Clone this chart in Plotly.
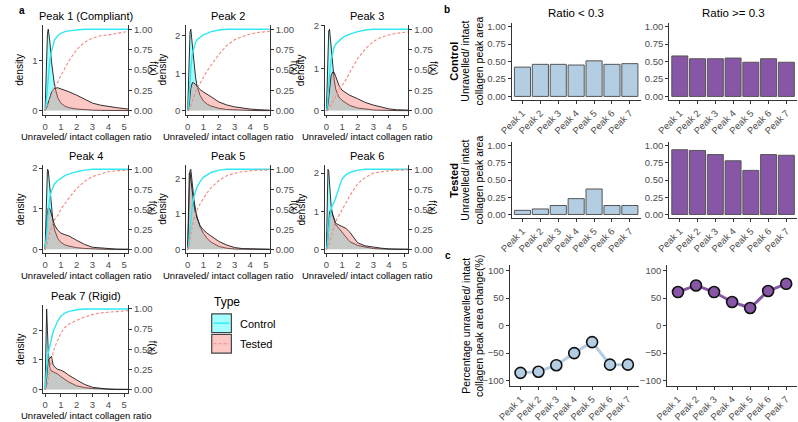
import plotly.graph_objects as go

# ---------------- data ----------------
ratio_x = [0, 0.05, 0.1, 0.15, 0.2, 0.3, 0.4, 0.5, 0.6, 0.8, 1.0, 1.25, 1.5, 2.0, 2.5, 3.0, 3.5, 4.0, 4.5, 5.0, 5.3]

peak_titles = ["Peak 1 (Compliant)", "Peak 2", "Peak 3", "Peak 4", "Peak 5", "Peak 6", "Peak 7 (Rigid)"]

p1_control_density = [0, 0.55, 1.15, 1.55, 1.64, 1.4, 1.0, 0.72, 0.5, 0.26, 0.15, 0.09, 0.06, 0.03, 0.015, 0.01, 0.005, 0, 0, 0, 0]
p1_tested_density = [0, 0.02, 0.06, 0.11, 0.17, 0.28, 0.36, 0.42, 0.45, 0.46, 0.44, 0.41, 0.38, 0.31, 0.23, 0.15, 0.11, 0.08, 0.06, 0.04, 0.03]
p1_control_cdf = [0, 0.05, 0.16, 0.3, 0.45, 0.62, 0.73, 0.81, 0.87, 0.92, 0.95, 0.97, 0.98, 0.99, 1.0, 1.0, 1.0, 1.0, 1.0, 1.0, 1.0]
p1_tested_cdf = [0, 0.01, 0.03, 0.06, 0.09, 0.15, 0.2, 0.25, 0.29, 0.35, 0.43, 0.53, 0.61, 0.75, 0.84, 0.89, 0.92, 0.93, 0.95, 0.97, 0.975]

p2_control_density = [0, 0.8, 1.7, 2.1, 2.18, 1.75, 1.25, 0.9, 0.65, 0.4, 0.26, 0.17, 0.12, 0.06, 0.03, 0.015, 0.01, 0.005, 0, 0, 0]
p2_tested_density = [0, 0.05, 0.18, 0.4, 0.6, 0.75, 0.74, 0.7, 0.65, 0.56, 0.5, 0.44, 0.37, 0.23, 0.15, 0.1, 0.06, 0.04, 0.025, 0.015, 0.01]
p2_control_cdf = [0, 0.06, 0.18, 0.36, 0.52, 0.7, 0.79, 0.84, 0.87, 0.9, 0.93, 0.95, 0.97, 0.99, 1.0, 1.0, 1.0, 1.0, 1.0, 1.0, 1.0]
p2_tested_cdf = [0, 0.005, 0.02, 0.04, 0.07, 0.13, 0.18, 0.23, 0.27, 0.34, 0.41, 0.49, 0.56, 0.69, 0.8, 0.87, 0.91, 0.94, 0.96, 0.97, 0.975]

p3_control_density = [0, 0.7, 1.5, 1.88, 1.92, 1.5, 1.05, 0.72, 0.5, 0.32, 0.24, 0.17, 0.12, 0.06, 0.03, 0.015, 0.01, 0, 0, 0, 0]
p3_tested_density = [0, 0.04, 0.15, 0.35, 0.55, 0.82, 0.91, 0.9, 0.8, 0.6, 0.48, 0.41, 0.36, 0.28, 0.19, 0.13, 0.08, 0.04, 0.02, 0.01, 0.01]
p3_control_cdf = [0, 0.05, 0.17, 0.32, 0.45, 0.62, 0.72, 0.78, 0.82, 0.86, 0.89, 0.92, 0.94, 0.97, 0.99, 1.0, 1.0, 1.0, 1.0, 1.0, 1.0]
p3_tested_cdf = [0, 0.0, 0.01, 0.02, 0.04, 0.07, 0.11, 0.15, 0.19, 0.25, 0.31, 0.38, 0.47, 0.64, 0.76, 0.85, 0.9, 0.93, 0.95, 0.96, 0.97]

p4_control_density = [0, 0.9, 1.7, 1.97, 1.95, 1.45, 1.0, 0.68, 0.48, 0.27, 0.17, 0.11, 0.08, 0.04, 0.02, 0.01, 0, 0, 0, 0, 0]
p4_tested_density = [0, 0.2, 0.55, 0.88, 1.02, 1.0, 0.86, 0.72, 0.6, 0.47, 0.4, 0.36, 0.33, 0.22, 0.12, 0.05, 0.03, 0.01, 0.005, 0, 0]
p4_control_cdf = [0, 0.07, 0.2, 0.36, 0.5, 0.65, 0.73, 0.78, 0.82, 0.86, 0.89, 0.92, 0.94, 0.97, 0.99, 1.0, 1.0, 1.0, 1.0, 1.0, 1.0]
p4_tested_cdf = [0, 0.02, 0.05, 0.1, 0.15, 0.22, 0.28, 0.33, 0.37, 0.42, 0.5, 0.57, 0.64, 0.76, 0.85, 0.91, 0.94, 0.97, 0.98, 0.99, 0.99]

p5_control_density = [0, 0.9, 1.9, 2.22, 2.25, 1.75, 1.4, 1.12, 0.92, 0.62, 0.45, 0.3, 0.2, 0.08, 0.03, 0.01, 0, 0, 0, 0, 0]
p5_tested_density = [0, 1.3, 2.15, 2.15, 1.95, 1.55, 1.25, 1.02, 0.87, 0.66, 0.55, 0.45, 0.37, 0.22, 0.12, 0.05, 0.02, 0.01, 0, 0, 0]
p5_control_cdf = [0, 0.04, 0.14, 0.26, 0.37, 0.55, 0.66, 0.73, 0.78, 0.85, 0.9, 0.93, 0.96, 0.99, 1.0, 1.0, 1.0, 1.0, 1.0, 1.0, 1.0]
p5_tested_cdf = [0, 0.02, 0.07, 0.14, 0.2, 0.3, 0.38, 0.44, 0.49, 0.57, 0.64, 0.71, 0.77, 0.86, 0.92, 0.95, 0.97, 0.98, 0.99, 0.99, 1.0]

p6_control_density = [0, 1.2, 2.1, 2.05, 1.65, 1.15, 0.9, 0.75, 0.64, 0.55, 0.45, 0.32, 0.2, 0.1, 0.05, 0.02, 0.01, 0, 0, 0, 0]
p6_tested_density = [0, 0.1, 0.35, 0.75, 0.98, 1.04, 0.92, 0.75, 0.68, 0.64, 0.6, 0.55, 0.45, 0.17, 0.09, 0.05, 0.03, 0.01, 0.005, 0, 0]
p6_control_cdf = [0, 0.05, 0.16, 0.28, 0.37, 0.5, 0.56, 0.59, 0.65, 0.76, 0.88, 0.93, 0.96, 0.99, 1.0, 1.0, 1.0, 1.0, 1.0, 1.0, 1.0]
p6_tested_cdf = [0, 0.005, 0.02, 0.05, 0.09, 0.17, 0.24, 0.3, 0.35, 0.42, 0.49, 0.58, 0.67, 0.82, 0.9, 0.95, 0.97, 0.98, 0.99, 0.99, 1.0]

p7_control_density = [0, 1.8, 2.72, 2.0, 1.3, 0.75, 0.62, 0.6, 0.58, 0.52, 0.43, 0.33, 0.25, 0.12, 0.06, 0.03, 0.015, 0.005, 0, 0, 0]
p7_tested_density = [0, 0.1, 0.4, 0.8, 1.0, 1.05, 1.12, 0.85, 0.76, 0.68, 0.65, 0.58, 0.48, 0.32, 0.17, 0.07, 0.03, 0.01, 0.005, 0, 0]
p7_control_cdf = [0, 0.15, 0.3, 0.38, 0.45, 0.55, 0.64, 0.71, 0.76, 0.85, 0.91, 0.95, 0.97, 0.99, 1.0, 1.0, 1.0, 1.0, 1.0, 1.0, 1.0]
p7_tested_cdf = [0, 0.01, 0.03, 0.08, 0.14, 0.25, 0.36, 0.45, 0.52, 0.62, 0.7, 0.77, 0.81, 0.86, 0.9, 0.93, 0.95, 0.96, 0.97, 0.975, 0.98]

peak_labels = ["Peak 1", "Peak 2", "Peak 3", "Peak 4", "Peak 5", "Peak 6", "Peak 7"]
control_ratio_low = [0.42, 0.46, 0.46, 0.45, 0.51, 0.46, 0.47]
control_ratio_high = [0.58, 0.54, 0.54, 0.55, 0.49, 0.54, 0.49]
tested_ratio_low = [0.06, 0.08, 0.13, 0.23, 0.37, 0.13, 0.13]
tested_ratio_high = [0.94, 0.93, 0.87, 0.78, 0.64, 0.87, 0.86]
change_low = [-86, -84, -72, -50, -30, -71, -71]
change_high = [61, 73, 61, 43, 32, 63, 76]

# ---------------- helpers ----------------
W, H = 798, 422
FONT = "Arial, Liberation Sans, sans-serif"


def fx(p):
    return p / W


def fy(p):
    return 1 - p / H


def nm(prefix, n):
    return prefix + ("" if n == 1 else str(n))


AX = dict(showline=True, linecolor="#333333", linewidth=1, ticks="outside", ticklen=3,
          tickcolor="#333333", tickfont=dict(size=9.5, color="#4d4d4d", family=FONT),
          showgrid=False, zeroline=False, fixedrange=True)

fig = go.Figure()
layout = {}
annotations = []


def annotate(px, py, text, size=10, angle=0, bold=False, xanchor="center", color="black"):
    annotations.append(dict(x=fx(px), y=fy(py), xref="paper", yref="paper", text=("<b>%s</b>" % text) if bold else text,
                            showarrow=False, textangle=angle, xanchor=xanchor, yanchor="middle",
                            font=dict(size=size, color=color, family=FONT)))


# ---------------- panel a ----------------
peaks = [
    (p1_control_density, p1_tested_density, p1_control_cdf, p1_tested_cdf),
    (p2_control_density, p2_tested_density, p2_control_cdf, p2_tested_cdf),
    (p3_control_density, p3_tested_density, p3_control_cdf, p3_tested_cdf),
    (p4_control_density, p4_tested_density, p4_control_cdf, p4_tested_cdf),
    (p5_control_density, p5_tested_density, p5_control_cdf, p5_tested_cdf),
    (p6_control_density, p6_tested_density, p6_control_cdf, p6_tested_cdf),
    (p7_control_density, p7_tested_density, p7_control_cdf, p7_tested_cdf),
]
cols = [(31, 117), (176, 261), (317, 402)]
rows = [(20.5, 111.5), (163, 252.5), (305, 395)]

CYAN_LINE = "#2EE8F2"
PINK_LINE = "#F4877F"
CYAN_FILL = "rgba(0,255,255,0.36)"
PINK_FILL = "rgba(248,118,109,0.40)"

for i, (cd, td, cc, tc) in enumerate(peaks):
    l, r = cols[i % 3]
    t, b = rows[i // 3]
    xi, yi, si = i + 1, 2 * i + 1, 2 * i + 2
    xa, ya, sa = nm("x", xi), nm("y", yi), nm("y", si)
    M = max(max(cd), max(td))
    fig.add_trace(go.Scatter(x=ratio_x, y=cd, xaxis=xa, yaxis=ya, mode="lines",
                             line=dict(color="#1a1a1a", width=0.9), fill="tozeroy", fillcolor=CYAN_FILL,
                             showlegend=False, hoverinfo="skip"))
    fig.add_trace(go.Scatter(x=ratio_x, y=td, xaxis=xa, yaxis=ya, mode="lines",
                             line=dict(color="#1a1a1a", width=0.9), fill="tozeroy", fillcolor=PINK_FILL,
                             showlegend=False, hoverinfo="skip"))
    fig.add_trace(go.Scatter(x=ratio_x, y=cc, xaxis=xa, yaxis=sa, mode="lines",
                             line=dict(color=CYAN_LINE, width=1.4), showlegend=False, hoverinfo="skip"))
    fig.add_trace(go.Scatter(x=ratio_x, y=tc, xaxis=xa, yaxis=sa, mode="lines",
                             line=dict(color=PINK_LINE, width=1.1, dash="3px,2px"), showlegend=False, hoverinfo="skip"))
    layout[nm("xaxis", xi)] = dict(AX, domain=[fx(l), fx(r)], anchor=ya, range=[-0.1, 5.25],
                                   tickvals=[0, 1, 2, 3, 4, 5], ticklen=2.5)
    layout[nm("yaxis", yi)] = dict(AX, domain=[fy(b), fy(t)], anchor=xa, range=[-0.05 * M, 1.05 * M],
                                   tickvals=[v for v in [0, 1, 2] if v <= 1.05 * M])
    layout[nm("yaxis", si)] = dict(AX, overlaying=ya, anchor=xa, side="right", range=[-0.05, 1.05],
                                   tickvals=[0, 0.25, 0.5, 0.75, 1.0],
                                   ticktext=["0.00", "0.25", "0.50", "0.75", "1.00"])
    annotate((l + r) / 2, t - 9, peak_titles[i], size=11)
    annotate((l + r) / 2, b + 22.5, "Unraveled/ intact collagen ratio", size=9.5)
    annotate(l - 24, (t + b) / 2, "density", size=10, angle=-90)
    annotate(r + 25, (t + b) / 2 - 2, "f(x)", size=10, angle=90)

# legend (panel a)
shapes = []
shapes.append(dict(type="rect", xref="paper", yref="paper", x0=fx(202), x1=fx(222), y0=fy(333), y1=fy(314),
                   fillcolor=CYAN_FILL, line=dict(color="#444444", width=1.2)))
shapes.append(dict(type="line", xref="paper", yref="paper", x0=fx(204), x1=fx(220), y0=fy(323.5), y1=fy(323.5),
                   line=dict(color=CYAN_LINE, width=1.4)))
shapes.append(dict(type="rect", xref="paper", yref="paper", x0=fx(202), x1=fx(222), y0=fy(354), y1=fy(335),
                   fillcolor=PINK_FILL, line=dict(color="#444444", width=1.2)))
shapes.append(dict(type="line", xref="paper", yref="paper", x0=fx(204), x1=fx(220), y0=fy(344.5), y1=fy(344.5),
                   line=dict(color=PINK_LINE, width=1.1, dash="3px,2px")))
annotate(202, 302, "Type", size=12, xanchor="left")
annotate(229, 324, "Control", size=11, xanchor="left")
annotate(229, 345, "Tested", size=11, xanchor="left")

# ---------------- panel b ----------------
BLUE = "#B3CDE3"
PURPLE = "#8856A7"
bar_panels = [
    (control_ratio_low, BLUE, (507, 638), (18.5, 96.5)),
    (control_ratio_high, PURPLE, (667, 797), (18.5, 96.5)),
    (tested_ratio_low, BLUE, (507, 638), (139.5, 216.5)),
    (tested_ratio_high, PURPLE, (667, 797), (139.5, 216.5)),
]
for j, (vals, col, (l, r), (t, b)) in enumerate(bar_panels):
    xi = 8 + j
    yi = 15 + j
    xa, ya = nm("x", xi), nm("y", yi)
    fig.add_trace(go.Bar(x=peak_labels, y=vals, xaxis=xa, yaxis=ya, width=0.9,
                         marker=dict(color=col, line=dict(color="#555555", width=1)),
                         showlegend=False, hoverinfo="skip"))
    layout[nm("xaxis", xi)] = dict(AX, domain=[fx(l), fx(r)], anchor=ya, type="category",
                                   range=[-0.6, 6.6], tickangle=-45)
    layout[nm("yaxis", yi)] = dict(AX, domain=[fy(b), fy(t)], anchor=xa, range=[-0.05, 1.05],
                                   tickvals=[0, 0.25, 0.5, 0.75, 1.0],
                                   ticktext=["0.00", "0.25", "0.50", "0.75", "1.00"])

annotate(572, 8, "Ratio &lt; 0.3", size=11.5)
annotate(732, 8, "Ratio &gt;= 0.3", size=11.5)
annotate(448, 57, "Control", size=11, angle=-90, bold=True)
annotate(448, 178, "Tested", size=11, angle=-90, bold=True)
annotate(467, 57, "Unravelled/ intact<br>collagen peak area", size=10.5, angle=-90)
annotate(467, 178, "Unravelled/ intact<br>collagen peak area", size=10.5, angle=-90)

# ---------------- panel c ----------------
line_panels = [
    (change_low, BLUE, (505, 636)),
    (change_high, PURPLE, (665, 797)),
]
for j, (vals, col, (l, r)) in enumerate(line_panels):
    xi = 12 + j
    yi = 19 + j
    xa, ya = nm("x", xi), nm("y", yi)
    fig.add_trace(go.Scatter(x=peak_labels, y=vals, xaxis=xa, yaxis=ya, mode="lines+markers",
                             line=dict(color=col, width=3),
                             marker=dict(size=11, color=col, line=dict(color="#111111", width=1.6)),
                             showlegend=False, hoverinfo="skip"))
    layout[nm("xaxis", xi)] = dict(AX, domain=[fx(l), fx(r)], anchor=ya, type="category",
                                   range=[-0.6, 6.6], tickangle=-45)
    layout[nm("yaxis", yi)] = dict(AX, domain=[fy(387.5), fy(264.5)], anchor=xa, range=[-110, 110],
                                   tickvals=[-100, -50, 0, 50, 100])

annotate(467, 326, "Percentage unravelled/ intact<br>collagen peak area change(%)", size=10.5, angle=-90)

# panel letters
annotate(4, 6, "a", size=10, bold=True, xanchor="left")
annotate(436, 5, "b", size=10, bold=True, xanchor="left")
annotate(437, 255, "c", size=10, bold=True, xanchor="left")

fig.update_layout(**layout)
fig.update_layout(width=W, height=H, margin=dict(l=0, r=0, t=0, b=0), autosize=False,
                  paper_bgcolor="white", plot_bgcolor="white", showlegend=False,
                  font=dict(family=FONT, color="black"), annotations=annotations, shapes=shapes,
                  bargap=0.1)

fig.write_html("out.html", config={"displayModeBar": False, "responsive": False},
               post_script="document.body.style.margin='0';document.body.style.padding='0';"
                           "document.body.style.overflow='hidden';")
